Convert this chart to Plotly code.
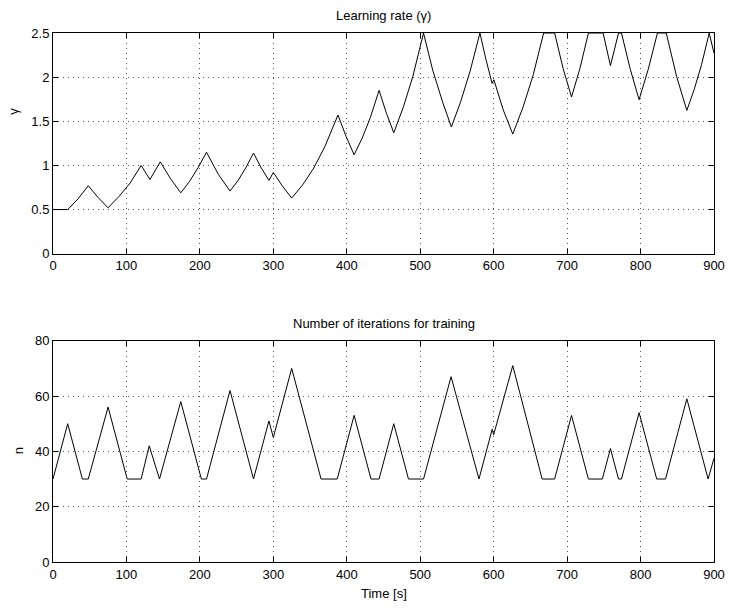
import plotly.graph_objects as go
from plotly.subplots import make_subplots

# Learning rate (gamma) vs time
t_gamma = [0, 20, 34, 48, 61, 75, 90, 105, 120, 132, 146, 160, 174, 186, 198, 209,
           225, 241, 252, 263, 273, 283, 294, 300, 312, 325, 340, 355, 370, 388,
           399, 410, 421, 432, 444, 454, 464, 477, 490, 504.5, 517, 530, 542.4,
           555, 568, 581.3, 589.5, 597.8, 600.3, 613, 626, 640, 654, 668, 683,
           694.5, 706, 717.5, 729, 749, 759, 770, 774, 786, 798, 810.5, 823, 835,
           849, 863, 873, 883, 893.5, 900]
gamma = [0.5, 0.5, 0.62, 0.77, 0.64, 0.52, 0.65, 0.80, 1.0, 0.84, 1.04, 0.85, 0.69, 0.82, 0.98, 1.15,
         0.90, 0.71, 0.83, 0.98, 1.14, 0.98, 0.83, 0.92, 0.77, 0.63, 0.78, 0.97, 1.21, 1.57,
         1.33, 1.12, 1.31, 1.54, 1.85, 1.59, 1.37, 1.66, 2.01, 2.5, 2.08, 1.73, 1.435,
         1.72, 2.07, 2.5, 2.2, 1.93, 1.97, 1.63, 1.355, 1.66, 2.03, 2.5, 2.5,
         2.1, 1.775, 2.1, 2.5, 2.5, 2.13, 2.5, 2.5, 2.09, 1.745, 2.09, 2.5, 2.5,
         2.01, 1.623, 1.86, 2.14, 2.5, 2.27]

# Number of iterations vs time
t_n = [0, 20, 40, 48, 75, 101, 120, 131, 145, 174, 202, 209, 241, 273, 294, 300, 325,
       365, 387, 410, 433, 444, 464, 484, 504.5, 542, 580, 598, 600, 626, 666, 683,
       706, 729, 748, 759, 770, 774, 798, 822, 834, 863, 892, 900]
n_iter = [30, 50, 30, 30, 56, 30, 30, 42, 30, 58, 30, 30, 62, 30, 51, 45, 70,
          30, 30, 53, 30, 30, 50, 30, 30, 67, 30, 48, 46, 71, 30, 30,
          53, 30, 30, 41, 30, 30, 54, 30, 30, 59, 30, 37.5]

x_ticks = [0, 100, 200, 300, 400, 500, 600, 700, 800, 900]
gamma_ticks = [0, 0.5, 1, 1.5, 2, 2.5]
n_ticks = [0, 20, 40, 60, 80]

FONT = "Liberation Sans, Arial, sans-serif"
FS = 13

fig = make_subplots(rows=2, cols=1)
fig.add_trace(go.Scatter(x=t_gamma, y=gamma, mode="lines",
                         line=dict(color="black", width=1), showlegend=False), row=1, col=1)
fig.add_trace(go.Scatter(x=t_n, y=n_iter, mode="lines",
                         line=dict(color="black", width=1), showlegend=False), row=2, col=1)

axis_common = dict(showline=True, linecolor="black", linewidth=1, mirror="ticks",
                   ticks="inside", ticklen=5, tickcolor="black",
                   showgrid=True, gridcolor="#555", gridwidth=1, griddash="1px,4px",
                   zeroline=False, tickfont=dict(family=FONT, size=FS, color="black"))

fig.update_xaxes(**axis_common, range=[0, 900], tickvals=x_ticks)
fig.update_yaxes(**axis_common)
fig.update_yaxes(range=[0, 2.5], tickvals=gamma_ticks, row=1, col=1)
fig.update_yaxes(range=[0, 80], tickvals=n_ticks, row=2, col=1)

fig.update_layout(
    width=737, height=608,
    margin=dict(l=53, r=12, t=33, b=46),
    paper_bgcolor="white", plot_bgcolor="white",
    font=dict(family=FONT, size=FS, color="black"),
    xaxis=dict(domain=[0, 1]),
    yaxis=dict(domain=[0.5828, 1.0]),
    xaxis2=dict(domain=[0, 1]),
    yaxis2=dict(domain=[0.0, 0.4183]),
    annotations=[
        dict(text="Learning rate (γ)", x=0.5, y=1.0, xref="paper", yref="paper",
             xanchor="center", yanchor="middle", yshift=18, showarrow=False,
             font=dict(family=FONT, size=FS)),
        dict(text="Number of iterations for training", x=0.5, y=0.4183, xref="paper", yref="paper",
             xanchor="center", yanchor="middle", yshift=17, showarrow=False,
             font=dict(family=FONT, size=FS)),
        dict(text="Time [s]", x=0.5, y=0, xref="paper", yref="paper",
             xanchor="center", yanchor="middle", yshift=-31, showarrow=False,
             font=dict(family=FONT, size=FS)),
        dict(text="γ", x=0, y=0.851, xref="paper", yref="paper", textangle=-90,
             xanchor="center", yanchor="middle", xshift=-39, showarrow=False,
             font=dict(family=FONT, size=FS)),
        dict(text="n", x=0, y=0.2092, xref="paper", yref="paper", textangle=-90,
             xanchor="center", yanchor="middle", xshift=-35, showarrow=False,
             font=dict(family=FONT, size=FS)),
    ],
)

fig.write_html("out.html")
